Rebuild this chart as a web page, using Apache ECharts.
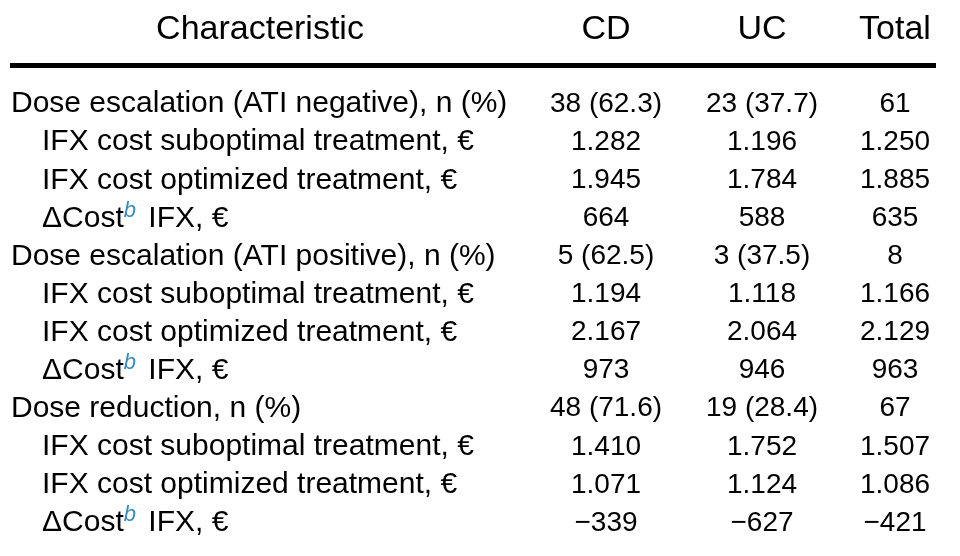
<!DOCTYPE html>
<html><head><meta charset="utf-8">
<script src="https://cdn.jsdelivr.net/npm/echarts@6/dist/echarts.min.js"></script>
<style>html,body{margin:0;padding:0;background:#fff}#c{width:960px;height:556px}</style>
</head><body><div id="c"></div>
<script>
// ---- data ----
const columns = ['Characteristic', 'CD', 'UC', 'Total'];
const groupLabels = [
  'Dose escalation (ATI negative), n (%)',
  'Dose escalation (ATI positive), n (%)',
  'Dose reduction, n (%)'
];
const groupCDn = [38, 5, 48];
const groupCDpct = [62.3, 62.5, 71.6];
const groupUCn = [23, 3, 19];
const groupUCpct = [37.7, 37.5, 28.4];
const groupTotaln = [61, 8, 67];
const subLabels = [
  'IFX cost suboptimal treatment, \u20AC',
  'IFX cost optimized treatment, \u20AC',
  '\u0394Cost{sup|b} IFX, \u20AC'
];
const suboptCD = [1282, 1194, 1410];
const suboptUC = [1196, 1118, 1752];
const suboptTotal = [1250, 1166, 1507];
const optCD = [1945, 2167, 1071];
const optUC = [1784, 2064, 1124];
const optTotal = [1885, 2129, 1086];
const deltaCD = [664, 973, -339];
const deltaUC = [588, 946, -627];
const deltaTotal = [635, 963, -421];

// ---- formatting ----
function fmtNum(v) {
  const s = String(Math.abs(v)).replace(/\B(?=(\d{3})+(?!\d))/g, '.');
  return (v < 0 ? '\u2212' : '') + s;
}
function fmtNP(n, p) { return n + ' (' + p.toFixed(1) + ')'; }

// ---- layout (table geometry) ----
const colX = { label: 11, indent: 42, header: 260, CD: 606, UC: 762, Total: 895, ruleL: 10, ruleR: 936 };
const FONT = '"Liberation Sans", Arial, Helvetica, sans-serif';

// build cells: [x, row, text, kind]
const cells = [];
cells.push([colX.header, 0, columns[0], 'head']);
cells.push([colX.CD, 0, columns[1], 'head']);
cells.push([colX.UC, 0, columns[2], 'head']);
cells.push([colX.Total, 0, columns[3], 'head']);
cells.push([colX.ruleL, 1, '', 'rule']);
let r = 2;
for (let g = 0; g < groupLabels.length; g++) {
  cells.push([colX.label, r, groupLabels[g], 'label']);
  cells.push([colX.CD, r, fmtNP(groupCDn[g], groupCDpct[g]), 'num']);
  cells.push([colX.UC, r, fmtNP(groupUCn[g], groupUCpct[g]), 'num']);
  cells.push([colX.Total, r, String(groupTotaln[g]), 'num']);
  r++;
  const rows = [
    [suboptCD[g], suboptUC[g], suboptTotal[g]],
    [optCD[g], optUC[g], optTotal[g]],
    [deltaCD[g], deltaUC[g], deltaTotal[g]]
  ];
  for (let k = 0; k < 3; k++) {
    cells.push([colX.indent, r, subLabels[k], 'label']);
    cells.push([colX.CD, r, fmtNum(rows[k][0]), 'num']);
    cells.push([colX.UC, r, fmtNum(rows[k][1]), 'num']);
    cells.push([colX.Total, r, fmtNum(rows[k][2]), 'num']);
    r++;
  }
}

const chart = echarts.init(document.getElementById('c'), null, { renderer: 'canvas' });
chart.setOption({
  backgroundColor: '#fff',
  animation: false,
  grid: { left: 0, width: 960, top: 28, height: 495 },
  xAxis: { type: 'value', min: 0, max: 960, show: false },
  yAxis: { type: 'value', min: 0, max: 13, inverse: true, show: false },
  series: [{
    type: 'custom',
    coordinateSystem: 'cartesian2d',
    data: cells.map(c => [c[0], c[1]]),
    renderItem: function (params, api) {
      const c = cells[params.dataIndex];
      const pt = api.coord([api.value(0), api.value(1)]);
      if (c[3] === 'rule') {
        const end = api.coord([colX.ruleR, api.value(1)]);
        return { type: 'rect', shape: { x: pt[0], y: pt[1] - 3, width: end[0] - pt[0], height: 5 }, style: { fill: '#000' } };
      }
      const isHead = c[3] === 'head';
      const isLabel = c[3] === 'label';
      return {
        type: 'text',
        x: pt[0], y: pt[1] + (isHead ? 1.5 : 0),
        style: {
          text: c[2],
          fill: '#000',
          fontFamily: FONT,
          fontSize: isHead ? 34 : (isLabel ? 30 : 28),
          align: isLabel ? 'left' : 'center',
          verticalAlign: 'middle',
          rich: {
            sup: { fontSize: 22, fontStyle: 'italic', fill: '#3a8bbf', fontFamily: FONT,
                   verticalAlign: 'bottom', lineHeight: 20, padding: [0, 4, 12, 0] }
          }
        }
      };
    }
  }]
});
</script>
</body></html>
